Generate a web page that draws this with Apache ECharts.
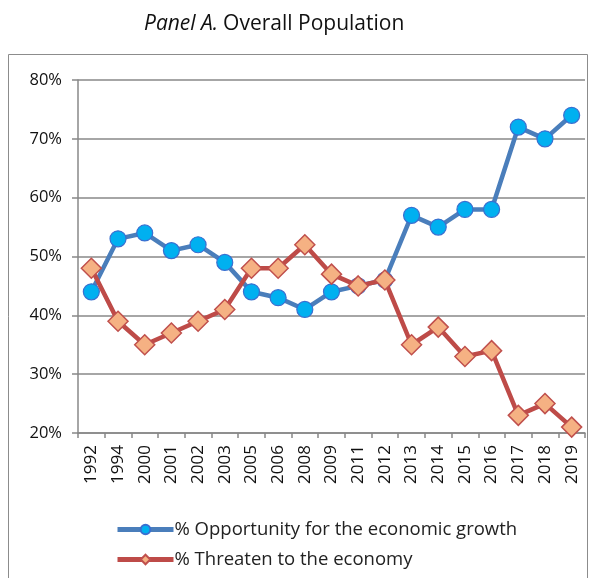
<!DOCTYPE html>
<html><head><meta charset="utf-8">
<script src="https://cdn.jsdelivr.net/npm/echarts@6/dist/echarts.min.js"></script>
<style>html,body{margin:0;padding:0;background:#fff}#c{width:590px;height:578px}</style>
</head><body><div id="c"></div>
<script>
const years = ['1992','1994','2000','2001','2002','2003','2005','2006','2008','2009','2011','2012','2013','2014','2015','2016','2017','2018','2019'];
const opportunity = [44,53,54,51,52,49,44,43,41,44,45,46,57,55,58,58,72,70,74];
const threaten = [48,39,35,37,39,41,48,48,52,47,45,46,35,38,33,34,23,25,21];
const yTicks = ['20%','30%','40%','50%','60%','70%','80%'];

const chart = echarts.init(document.getElementById('c'));
chart.setOption({
  animation: false,
  title: {
    text: '{i|Panel A.} {n|Overall Population}',
    left: 139, top: 9,
    textStyle: { fontWeight: 'normal', rich: {
      i: { fontFamily: 'Open Sans', fontStyle: 'italic', fontWeight: 'normal', fontSize: 21, color: '#111' },
      n: { fontFamily: 'Open Sans', fontWeight: 'normal', fontSize: 21, color: '#111' }
    } }
  },
  graphic: [{ type: 'rect', shape: { x: 8.5, y: 54.5, width: 579, height: 540 }, style: { fill: 'none', stroke: '#8c8c8c', lineWidth: 1 }, silent: true }],
  grid: { left: 78, right: 5, top: 80, bottom: 145, containLabel: false },
  legend: {
    orient: 'vertical', left: 110, top: 515, itemGap: 11, itemWidth: 56, itemHeight: 12,
    lineStyle: { width: 5 },
    textStyle: { fontFamily: 'Open Sans', fontSize: 18.5, color: '#222', padding: [0, 0, 0, -4] },
    data: [
      { name: '% Opportunity for the economic growth' },
      { name: '% Threaten to the economy' }
    ]
  },
  xAxis: {
    type: 'category', data: years, boundaryGap: true,
    axisLine: { lineStyle: { color: '#888', width: 1.5 } },
    axisTick: { show: true, length: 5, lineStyle: { color: '#888', width: 1.5 } },
    axisLabel: { rotate: 90, fontFamily: 'Open Sans', fontSize: 17, color: '#111', margin: 12 }
  },
  yAxis: {
    type: 'value', min: 20, max: 80, interval: 10,
    axisLine: { show: true, lineStyle: { color: '#888', width: 1.5 } },
    axisTick: { show: true, length: 6, lineStyle: { color: '#888', width: 1.5 } },
    splitLine: { lineStyle: { color: '#888', width: 1.5 } },
    axisLabel: { fontFamily: 'Open Sans', fontSize: 16.5, color: '#111', margin: 16,
      formatter: v => yTicks[(v - 20) / 10] }
  },
  series: [
    { name: '% Opportunity for the economic growth', type: 'line', data: opportunity,
      symbol: 'circle', symbolSize: 16, z: 3,
      lineStyle: { color: '#4a7ebb', width: 4.5 },
      itemStyle: { color: '#00b0f0', borderColor: '#3a6fd0', borderWidth: 1.2 } },
    { name: '% Threaten to the economy', type: 'line', data: threaten,
      symbol: 'diamond', symbolSize: [20, 20], z: 4,
      lineStyle: { color: '#be4b48', width: 4.5 },
      itemStyle: { color: '#f5b183', borderColor: '#c0504d', borderWidth: 1.5 } }
  ]
});
</script></body></html>
